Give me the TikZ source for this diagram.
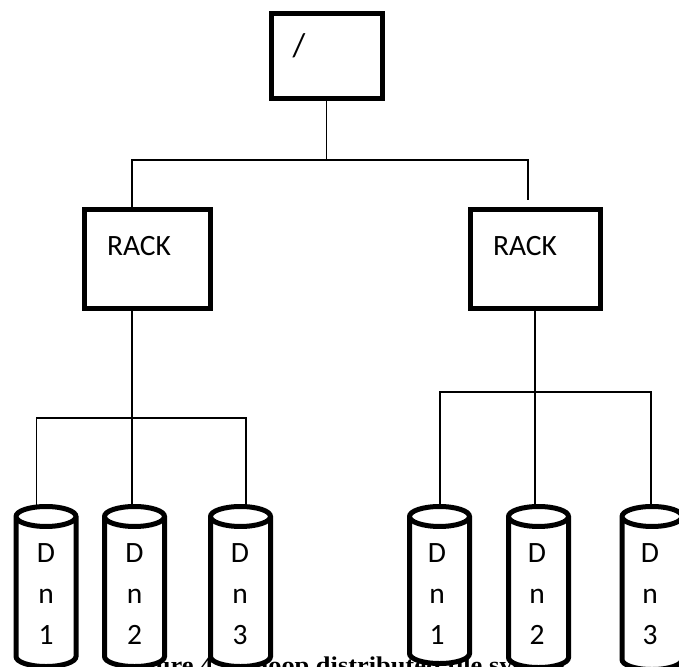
\documentclass[tikz,border=0pt]{standalone}
\usepackage{fontspec}
\setmainfont{Carlito}
\newfontfamily\capfont[FakeStretch=1.1]{Liberation Serif}
\usetikzlibrary{shapes.geometric}
\tikzset{
  boxnode/.style={draw,line width=5pt,fill=white,inner sep=0pt,outer sep=0pt},
  dncyl/.style={cylinder,shape border rotate=90,aspect=1.1,draw,line width=5pt,fill=white,
    inner sep=0pt,outer sep=0pt,minimum width=60pt,font=\fontsize{29.5}{41}\selectfont},
  dntxt/.style={align=center,inner sep=0pt,font=\fontsize{29.5}{41}\selectfont},
  wire/.style={line width=1.7pt},
  lbl/.style={font=\fontsize{29.5}{32}\selectfont,inner sep=0pt}
}
\begin{document}
\begin{tikzpicture}[x=1pt,y=-1pt]
\useasboundingbox (0,0) rectangle (679,666);
\node[anchor=base west,inner sep=0pt,font=\capfont\bfseries\fontsize{24}{28}\selectfont] (cap) at (119,673) {Figure 4 Hadoop distributed file system};
\node[boxnode,minimum width=111pt,minimum height=84.7pt] (root) at (327,55.8) {};
\node[boxnode,minimum width=126pt,minimum height=99pt] (rackl) at (147,258.8) {};
\node[boxnode,minimum width=130pt,minimum height=99pt] (rackr) at (535.5,258.8) {};
\node[lbl,font=\fontsize{33}{36}\selectfont] (rootlbl) at (299,45.5) {/};
\node[lbl] (racklbl) at (139,246) {RACK};
\node[lbl] (rackrlbl) at (525,246) {RACK};
% tree from the root
\coordinate (busl) at (132,160);
\coordinate (busr) at (528,160);
\coordinate (busm) at (326.5,160);
\coordinate (endr) at (528,200);
\draw[wire] (root.south -| busm) -- (busm);
\draw[wire] (rackl.north -| busl) -- (busl) -- (busr) -- (endr);
% data nodes
\foreach \nm/\x/\h/\t/\tx in {la/46/160/1/46,lb/134.5/160/2/134.5,lc/240.5/160/3/240,ra/439.5/157/1/437,rb/538.5/161/2/537,rc/652/163/3/650}{
\node[dncyl,minimum height=\h pt,anchor=north] (dn\nm) at (\x,506.5) {\phantom{D}};
\node[dntxt] (txt\nm) at (\tx,594) {D\\n\\\t};
}
% left rack
\coordinate (lbusa) at (36.5,418);
\coordinate (lbusb) at (132.3,418);
\coordinate (lbusc) at (246,418);
\draw[wire] (rackl.south -| lbusb) -- (dnlb.north -| lbusb);
\draw[wire] (dnla.north -| lbusa) -- (lbusa) -- (lbusc) -- (dnlc.north -| lbusc);
% right rack
\coordinate (rbusa) at (440,392);
\coordinate (rbusb) at (534.7,392);
\coordinate (rbusc) at (651,392);
\draw[wire] (rackr.south -| rbusb) -- (dnrb.north -| rbusb);
\draw[wire] (dnra.north -| rbusa) -- (rbusa) -- (rbusc) -- (dnrc.north -| rbusc);
\end{tikzpicture}
\end{document}
